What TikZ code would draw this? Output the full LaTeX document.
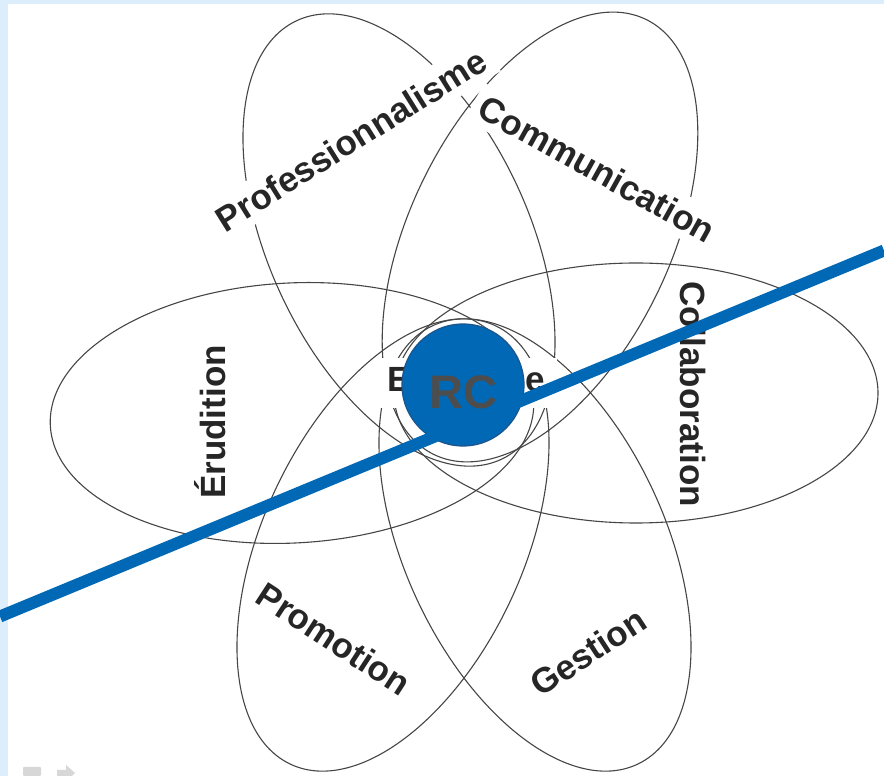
\documentclass[tikz,border=0pt]{standalone}
\usepackage{fontspec}
\setmainfont{Liberation Sans}
\definecolor{frameblue}{RGB}{220,237,252}
\definecolor{axisblue}{RGB}{0,104,181}
\definecolor{coreedge}{RGB}{28,84,140}
\definecolor{orbitgray}{RGB}{70,70,70}
\definecolor{wordgray}{RGB}{38,38,38}
\definecolor{coregray}{RGB}{77,77,77}
\definecolor{icongray}{RGB}{215,215,215}

\begin{document}
\begin{tikzpicture}[x=1pt,y=1pt,
	orbit/.style={draw=orbitgray, line width=1.1pt},
	word/.style={fill=white, inner sep=8pt, text=wordgray, font=\fontsize{35}{40}\selectfont\bfseries}]
		\useasboundingbox (0,0) rectangle (884,776);
		\fill[frameblue] (0,0) rectangle (884,776);
		\fill[white] (8,0) rectangle (884,772);
		\fill[icongray, rounded corners=1pt] (23,0) rectangle (41,9);
		\fill[icongray] (57,0) -- (57,6) -- (66,6) -- (66,11) -- (75,3) -- (72,0) -- cycle;
		\draw[orbit, rotate around={3:(292,363)}] (292,363) ellipse (242 and 130);
		\draw[orbit] (636,383) ellipse (242 and 130);
		\draw[orbit, rotate around={115:(399,536)}] (399,536) ellipse (242 and 130);
		\draw[orbit, rotate around={64:(540,539)}] (540,539) ellipse (242 and 130);
		\draw[orbit, rotate around={65:(393,231)}] (393,231) ellipse (242 and 130);
		\draw[orbit, rotate around={115:(535,231)}] (535,231) ellipse (242 and 130);
		\node[word, rotate=32] (prof) at (351,636) {Professionnalisme};
		\node[word, rotate=-29] (comm) at (597,607) {Communication};
		\node[word, rotate=-90] (collab) at (693,382) {Collaboration};
		\node[word, rotate=90] (erud) at (210,354) {Érudition};
		\node[word, rotate=-33] (promo) at (334,137) {Promotion};
		\node[word, rotate=33] (gest) at (588,124) {Gestion};
		\node[word, inner xsep=12pt, inner ysep=9pt, anchor=base] (expert) at (466,384) {Expertise};
		\node[circle, fill=axisblue, draw=coreedge, line width=1.2pt, minimum size=122pt, inner sep=0pt] (core) at (463,391) {};
		\coordinate (axisW) at (0,159.5);
		\coordinate (axisE) at (884,525.5);
		\draw[axisblue, line width=12pt] (axisW) -- (axisE);
		\node[text=coregray, font=\fontsize{47}{50}\selectfont\bfseries] (corelabel) at (463.5,383.5) {RC};
	\end{tikzpicture}
\end{document}
